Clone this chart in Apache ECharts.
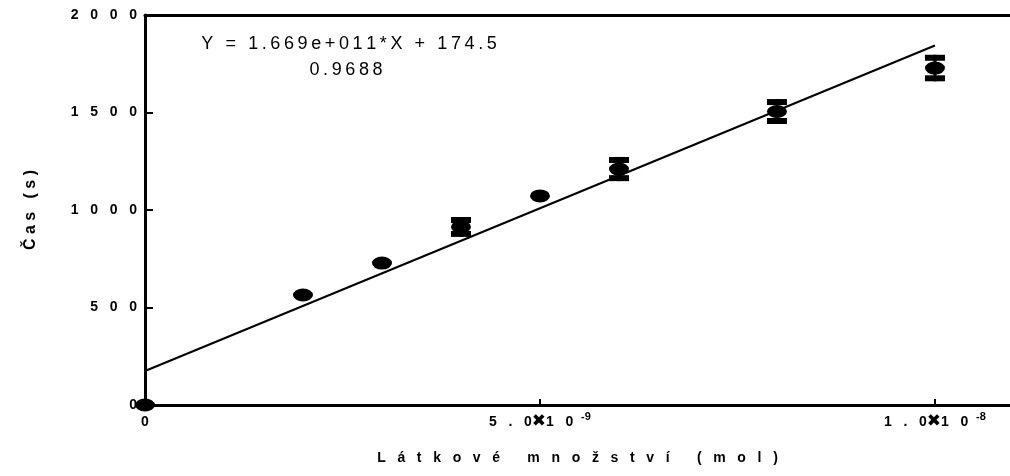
<!DOCTYPE html>
<html>
<head>
<meta charset="utf-8">
<script src="https://cdn.jsdelivr.net/npm/echarts@6/dist/echarts.min.js"></script>
<style>
  html, body { margin: 0; padding: 0; background: #fff; }
  #chart { width: 1010px; height: 476px; }
</style>
</head>
<body>
<div id="chart"></div>
<script>
// Amount of substance for each measurement (mol)
const amounts = [0, 2e-9, 3e-9, 4e-9, 5e-9, 6e-9, 8e-9, 1e-8];
// Mean time (s)
const times = [0, 564, 728, 913, 1072, 1210, 1505, 1728];
// Error half-width (s); 0 where the bar hides behind the marker
const errors = [0, 0, 0, 51, 0, 62, 64, 68];

// Linear fit
const fitSlope = 1.669e11;
const fitIntercept = 174.5;
const fitR2 = '0.9688';
const fitRange = [0, 1e-8];

// Axis ticks
const xTicks = [0, 5e-9, 1e-8];
const yTicks = [0, 500, 1000, 1500, 2000];

const xTitle = 'Látkové množství (mol)';
const yTitle = 'Čas (s)';

const FONT = 'Liberation Sans, Arial, sans-serif';

// Tracked lettering: spread the characters of a label apart
const track = (s, gap) => Array.from(String(s)).join(gap);

// GraphPad-style exponent: 1.669e+011
const sciText = v => {
  const [m, e] = v.toExponential(3).split('e');
  const sign = e[0];
  const digits = e.slice(1).padStart(3, '0');
  return m + 'e' + sign + digits;
};

const equation = 'Y = ' + sciText(fitSlope) + '*X + ' + fitIntercept;

const pointData = amounts.map((x, i) => [x, times[i]]);
const errorData = amounts
  .map((x, i) => [x, times[i] - errors[i], times[i] + errors[i], errors[i]])
  .filter(d => d[3] > 0);
const fitData = fitRange.map(x => [x, fitSlope * x + fitIntercept]);

const isTick = v => xTicks.some(t => Math.abs(t - v) < 1e-13);

const xLabel = v => {
  if (!isTick(v)) return '';
  if (Math.abs(v) < 1e-15) return '{n|0}';
  const e = Math.floor(Math.log10(v) + 1e-9);
  const m = (v / Math.pow(10, e)).toFixed(1);
  return '{n|' + track(m, '   ') + '}{x|\u2716}{n|' + track('10', '   ') + '  }{s|' + e + '}';
};

const chart = echarts.init(document.getElementById('chart'), null, { renderer: 'canvas' });

chart.setOption({
  animation: false,
  backgroundColor: '#fff',
  grid: { left: 145, top: 15, width: 865, height: 390, containLabel: false },
  xAxis: [{
    type: 'value',
    min: 0,
    max: 1.095e-8,
    interval: 5e-9,
    position: 'bottom',
    axisLine: { show: true, onZero: false, lineStyle: { color: '#000', width: 3 } },
    axisTick: { show: true, inside: true, length: 6, lineStyle: { color: '#000', width: 2 } },
    splitLine: { show: false },
    axisLabel: {
      margin: 6,
      showMaxLabel: false,
      formatter: xLabel,
      rich: {
        n: { fontFamily: FONT, fontWeight: 'bold', fontSize: 14, color: '#000', lineHeight: 22 },
        x: { fontFamily: 'DejaVu Sans', fontSize: 17, color: '#000', lineHeight: 22 },
        s: { fontFamily: FONT, fontWeight: 'bold', fontSize: 11, color: '#000', lineHeight: 11, verticalAlign: 'top' }
      }
    },
    name: track(xTitle, '   '),
    nameLocation: 'middle',
    nameGap: 46,
    nameTextStyle: { fontFamily: FONT, fontWeight: 'bold', fontSize: 14, color: '#000' }
  }, {
    type: 'value',
    min: 0,
    max: 1.095e-8,
    position: 'top',
    axisLine: { show: true, onZero: false, lineStyle: { color: '#000', width: 3 } },
    axisTick: { show: false },
    axisLabel: { show: false },
    splitLine: { show: false }
  }],
  yAxis: {
    type: 'value',
    min: yTicks[0],
    max: yTicks[yTicks.length - 1],
    interval: yTicks[1] - yTicks[0],
    axisLine: { show: true, onZero: false, lineStyle: { color: '#000', width: 3 } },
    axisTick: { show: true, inside: true, length: 8, lineStyle: { color: '#000', width: 2 } },
    splitLine: { show: false },
    axisLabel: {
      margin: 8,
      formatter: v => track(v, '   '),
      fontFamily: FONT,
      fontWeight: 'bold',
      fontSize: 14,
      color: '#000'
    },
    name: track(yTitle, ' '),
    nameLocation: 'middle',
    nameGap: 106,
    nameTextStyle: { fontFamily: FONT, fontWeight: 'bold', fontSize: 16, color: '#000' }
  },
  series: [
    {
      name: 'fit',
      type: 'line',
      data: fitData,
      showSymbol: false,
      symbol: 'none',
      lineStyle: { color: '#000', width: 2 },
      z: 2
    },
    {
      name: 'error',
      type: 'custom',
      data: errorData,
      clip: false,
      z: 3,
      renderItem: (params, api) => {
        const x = api.value(0);
        const lo = api.coord([x, api.value(1)]);
        const hi = api.coord([x, api.value(2)]);
        const capW = 20, capH = 6;
        return {
          type: 'group',
          children: [
            { type: 'line', shape: { x1: lo[0], y1: lo[1], x2: hi[0], y2: hi[1] }, style: { stroke: '#000', lineWidth: 3 } },
            { type: 'rect', shape: { x: hi[0] - capW / 2, y: hi[1], width: capW, height: capH }, style: { fill: '#000' } },
            { type: 'rect', shape: { x: lo[0] - capW / 2, y: lo[1] - capH, width: capW, height: capH }, style: { fill: '#000' } }
          ]
        };
      }
    },
    {
      name: 'mean',
      type: 'scatter',
      data: pointData,
      symbol: 'circle',
      symbolSize: [20, 13],
      clip: false,
      itemStyle: { color: '#000', opacity: 1 },
      z: 4
    }
  ],
  graphic: [
    {
      type: 'text',
      x: 349,
      y: 44,
      style: {
        text: track(equation, '\u2009'),
        fontFamily: FONT,
        fontSize: 18,
        fill: '#000',
        align: 'center',
        verticalAlign: 'middle'
      }
    },
    {
      type: 'text',
      x: 346,
      y: 70,
      style: {
        text: track(fitR2, '\u2009'),
        fontFamily: FONT,
        fontSize: 18,
        fill: '#000',
        align: 'center',
        verticalAlign: 'middle'
      }
    }
  ]
});
</script>
</body>
</html>
